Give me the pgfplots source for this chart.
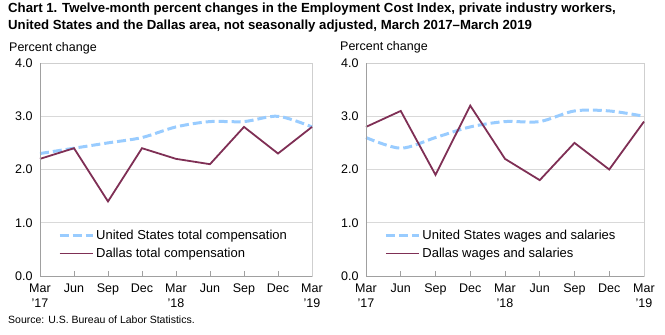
\documentclass[border=0pt]{standalone}
\usepackage{fontspec}
\setmainfont{Liberation Sans}
\usepackage{pgfplots}
\pgfplotsset{compat=1.18}
\definecolor{usblue}{HTML}{99CCFF}
\definecolor{dallas}{HTML}{7F2F55}
\definecolor{gridc}{HTML}{D9D9D9}
\definecolor{boxc}{HTML}{CFCFCF}
\definecolor{axisc}{HTML}{A0A0A0}
\pgfplotsset{
  ecistyle/.style={
    scale only axis, width=#1, height=213pt,
    xmin=0, xmax=8, ymin=0, ymax=4,
    xtick={0,...,8},
    xticklabels={Mar\\'17,Jun,Sep,Dec,Mar\\'18,Jun,Sep,Dec,Mar\\'19},
    xticklabel style={align=center, font=\fontsize{12.5}{15}\selectfont, yshift=-4pt},
    ytick={0,1,2,3,4},
    yticklabel style={font=\fontsize{12.5}{13}\selectfont, xshift=-4pt},
    /pgf/number format/assume math mode=true,
    /pgf/number format/.cd, fixed, fixed zerofill, precision=1, /pgfplots/.cd,
    ymajorgrids, grid style={gridc, line width=0.8pt},
    axis line style={boxc, line width=0.8pt},
    tick style={axisc, line width=0.8pt},
    ytick style={draw=none},
    tick align=inside, major tick length=5pt,
    xtick pos=bottom,
    clip=false,
    legend cell align=left,
    legend style={draw=none, fill=none, font=\fontsize{13}{15}\selectfont,
      anchor=north west, row sep=3pt, at={(0.055,0.235)}},
    legend image code/.code={\draw[##1] (0pt,0pt) -- (33pt,0pt);},
    after end axis/.code={\draw[axisc, line width=0.8pt] (rel axis cs:0,1) -- (rel axis cs:0,0) -- (rel axis cs:1,0);},
  }
}
\begin{document}
\begin{tikzpicture}[x=1pt,y=1pt]
\useasboundingbox (0,0) rectangle (665,-335);
\node[anchor=north west, align=left, font=\bfseries\fontsize{13.2}{16.5}\selectfont, inner sep=0pt] at (8,-3)
 {Chart 1. Twelve-month percent changes in the Employment Cost Index, private industry workers,\\United States and the Dallas area, not seasonally adjusted, March 2017--March 2019};
\node[anchor=north west, font=\fontsize{12.5}{13}\selectfont, inner sep=0pt] at (9,-42) {Percent change};
\node[anchor=north west, font=\fontsize{12.5}{13}\selectfont, inner sep=0pt] at (340,-41) {Percent change};
\node[anchor=north west, font=\fontsize{10.5}{11}\selectfont, inner sep=0pt] at (8,-316) {Source: U.S. Bureau of Labor Statistics.};
\begin{axis}[ecistyle=272pt, at={(40pt,-276pt)}, anchor=south west]
\addplot[usblue, line width=3pt, dash pattern=on 9pt off 4pt, smooth] coordinates
 {(0,2.3)(1,2.4)(2,2.5)(3,2.6)(4,2.8)(5,2.9)(6,2.9)(7,3.0)(8,2.8)};
\addlegendentry{United States total compensation}
\addplot[dallas, line width=1.8pt] coordinates
 {(0,2.2)(1,2.4)(2,1.4)(3,2.4)(4,2.2)(5,2.1)(6,2.8)(7,2.3)(8,2.8)};
\addlegendentry{Dallas total compensation}
\end{axis}
\begin{axis}[ecistyle=278pt, at={(366pt,-276pt)}, anchor=south west]
\addplot[usblue, line width=3pt, dash pattern=on 9pt off 4pt, smooth] coordinates
 {(0,2.6)(1,2.4)(2,2.6)(3,2.8)(4,2.9)(5,2.9)(6,3.1)(7,3.1)(8,3.0)};
\addlegendentry{United States wages and salaries}
\addplot[dallas, line width=1.8pt] coordinates
 {(0,2.8)(1,3.1)(2,1.9)(3,3.2)(4,2.2)(5,1.8)(6,2.5)(7,2.0)(8,2.9)};
\addlegendentry{Dallas wages and salaries}
\end{axis}
\end{tikzpicture}
\end{document}
